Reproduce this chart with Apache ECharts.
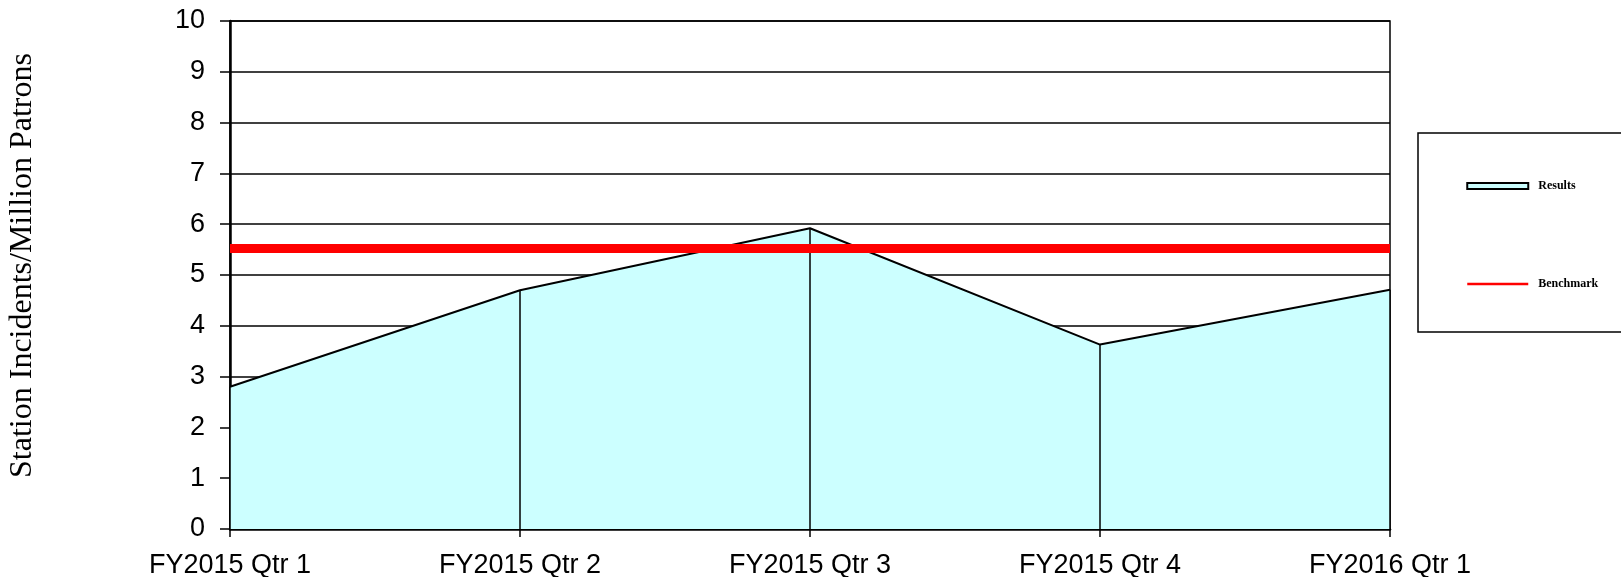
<!DOCTYPE html>
<html>
<head>
<meta charset="utf-8">
<script src="https://cdn.jsdelivr.net/npm/echarts@6/dist/echarts.min.js"></script>
<style>
html,body{margin:0;padding:0;background:#fff;}
#chart{width:1621px;height:577px;}
</style>
</head>
<body>
<div id="chart"></div>
<script>
const categories = ['FY2015 Qtr 1', 'FY2015 Qtr 2', 'FY2015 Qtr 3', 'FY2015 Qtr 4', 'FY2016 Qtr 1'];
const results = [2.80, 4.70, 5.92, 3.63, 4.71];
const benchmark = [5.52, 5.52, 5.52, 5.52, 5.52];
const yTicks = [0, 1, 2, 3, 4, 5, 6, 7, 8, 9, 10];

const chart = echarts.init(document.getElementById('chart'));
const dropLines = categories.map((c, i) => [{ coord: [c, 0] }, { coord: [c, results[i]] }]);

chart.setOption({
  animation: false,
  backgroundColor: '#fff',
  grid: { left: 230, right: 231, top: 21, bottom: 48, show: true, borderColor: '#000', borderWidth: 1.5, backgroundColor: 'transparent', outerBoundsMode: 'none', containLabel: false },
  legend: {
    orient: 'vertical', left: 1418, top: 133,
    padding: [47, 70, 42, 48],
    itemGap: 86, itemWidth: 61, itemHeight: 6,
    borderColor: '#000', borderWidth: 1.5,
    textStyle: { fontFamily: 'Liberation Serif', fontWeight: 'bold', fontSize: 12, color: '#000', padding: [0, 0, 0, 5] },
    data: [
      { name: 'Results', icon: 'rect', itemStyle: { color: '#ccffff', borderColor: '#000', borderWidth: 2 } },
      { name: 'Benchmark', itemStyle: { opacity: 0 }, lineStyle: { width: 2.5, color: '#ff0000' } }
    ]
  },
  xAxis: {
    type: 'category', data: categories, boundaryGap: false,
    axisLine: { lineStyle: { color: '#000', width: 2.5 } },
    axisTick: { show: true, length: 8, lineStyle: { color: '#000', width: 1.5 } },
    axisLabel: { color: '#000', fontSize: 27, fontFamily: 'Liberation Sans', margin: 23 },
    splitLine: { show: false }
  },
  yAxis: {
    type: 'value', min: 0, max: 10, interval: 1,
    name: 'Station Incidents/Million Patrons', nameLocation: 'middle', nameRotate: 90, nameGap: 191,
    nameTextStyle: { fontFamily: 'Liberation Serif', fontSize: 32, color: '#000', padding: [0, 0, 0, 19] },
    axisLine: { show: true, lineStyle: { color: '#000', width: 2.5 } },
    axisTick: { show: true, length: 10, lineStyle: { color: '#000', width: 1.5 } },
    axisLabel: { color: '#000', fontSize: 27, fontFamily: 'Liberation Sans', margin: 25,
      formatter: v => yTicks.includes(v) ? String(v) : '' },
    splitLine: { show: true, lineStyle: { color: '#000', width: 1.5 } }
  },
  series: [
    {
      name: 'Results', type: 'line', data: results, symbol: 'none', z: 2,
      lineStyle: { color: '#000', width: 2 },
      itemStyle: { color: '#ccffff' },
      areaStyle: { color: '#ccffff', opacity: 1 },
      markLine: { silent: true, symbol: 'none', label: { show: false },
        lineStyle: { color: '#000', width: 1.5, type: 'solid' }, data: dropLines }
    },
    {
      name: 'Benchmark', type: 'line', data: benchmark, symbol: 'none', z: 5,
      lineStyle: { color: '#ff0000', width: 9 },
      itemStyle: { color: '#ff0000' }
    }
  ]
});
</script>
</body>
</html>
